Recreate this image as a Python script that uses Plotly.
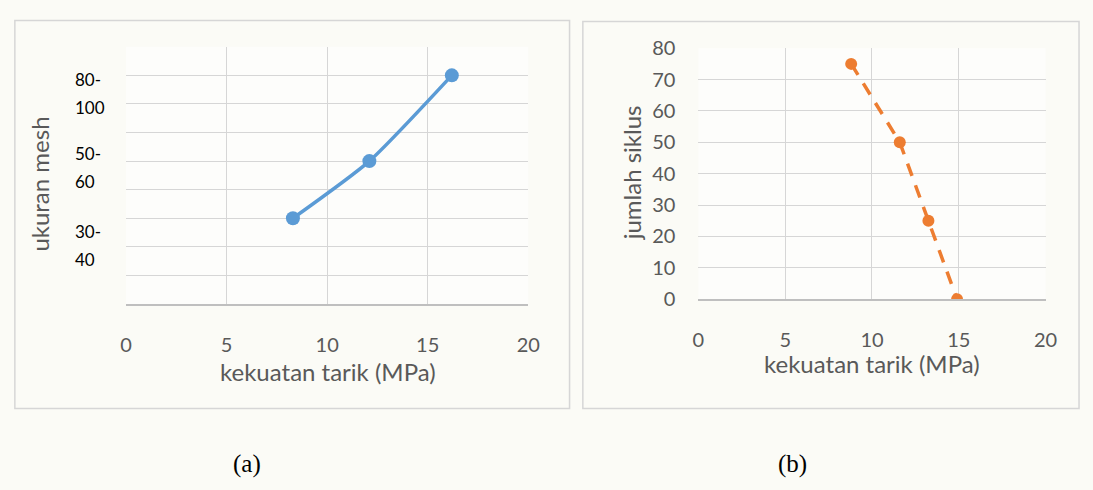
import plotly.graph_objects as go

# ---- data ----
mesh_strength = [8.3, 12.1, 16.2]          # kekuatan tarik (MPa), panel (a)
mesh_level = [30, 50, 80]                  # position of each mesh class on the y scale
mesh_labels = ["30-40", "50-60", "80-100"] # y tick labels panel (a)
mesh_label_pos = [20.5, 47.6, 73.7]

cycle_strength = [8.8, 11.6, 13.25, 14.9]  # kekuatan tarik (MPa), panel (b)
cycle_count = [75, 50, 25, 0]               # jumlah siklus

x_ticks = [0, 5, 10, 15, 20]
y_ticks_a = list(range(0, 100, 10))
y_ticks_b = list(range(0, 90, 10))

W, H = 1093, 490
def px(x): return x / W
def py(y): return 1 - y / H

fig = go.Figure()

fig.add_trace(go.Scatter(
    x=mesh_strength, y=mesh_level, mode="lines+markers",
    line=dict(color="#5B9BD5", width=3.5, shape="spline", smoothing=0.6),
    marker=dict(color="#5B9BD5", size=14),
    xaxis="x", yaxis="y", showlegend=False))

fig.add_trace(go.Scatter(
    x=cycle_strength, y=cycle_count, mode="lines+markers",
    line=dict(color="#ED7D31", width=3.5, dash="13px,10px"),
    marker=dict(color="#ED7D31", size=12),
    xaxis="x2", yaxis="y2", showlegend=False))

grid = "#d6d6d6"
tickfont = dict(family="Lato, Calibri, sans-serif", size=20, color="#595959")

fig.update_layout(
    width=W, height=H,
    margin=dict(l=0, r=0, t=0, b=0),
    paper_bgcolor="#fbfbf6",
    plot_bgcolor="rgba(255,255,255,0.6)",
    xaxis=dict(domain=[px(122), px(531)], range=[0, 20], tickvals=x_ticks,
               showgrid=True, gridcolor=grid, gridwidth=1.3, zeroline=False,
               showline=True, linecolor="#bfbfbf", linewidth=2,
               ticks="", tickfont=tickfont, ticklabelstandoff=22,
               anchor="y", fixedrange=True),
    yaxis=dict(domain=[py(306), py(35.5)], range=[0, 90], tickvals=y_ticks_a,
               showticklabels=False, showgrid=True, gridcolor=grid, gridwidth=1.3,
               zeroline=False, anchor="x", fixedrange=True),
    xaxis2=dict(domain=[px(704), px(1057)], range=[0, 20], tickvals=x_ticks,
                showgrid=True, gridcolor=grid, gridwidth=1.3, zeroline=False,
                showline=True, linecolor="#bfbfbf", linewidth=2,
                ticks="", tickfont=tickfont, ticklabelstandoff=22,
                anchor="y2", fixedrange=True),
    yaxis2=dict(domain=[py(301), py(37)], range=[0, 80], tickvals=y_ticks_b,
                showgrid=True, gridcolor=grid, gridwidth=1.3, zeroline=False,
                ticks="", tickfont=tickfont, ticklabelstandoff=22,
                anchor="x2", fixedrange=True),
)

shapes = [
    dict(type="rect", xref="paper", yref="paper", x0=px(9), x1=px(573), y0=py(416), y1=py(8),
         line=dict(color="#d6d6d6", width=1.5), fillcolor="rgba(255,255,255,0)", layer="below"),
    dict(type="rect", xref="paper", yref="paper", x0=px(586.5), x1=px(1091), y0=py(416), y1=py(9),
         line=dict(color="#d6d6d6", width=1.5), fillcolor="rgba(255,255,255,0)", layer="below"),
]
fig.update_layout(shapes=shapes)

labfont = dict(family="Lato, Calibri, sans-serif", size=17, color="#000000")
ann = []
for lab, pos in zip(mesh_labels, mesh_label_pos):
    top, bottom = lab.split("-")
    ann.append(dict(x=px(68), xref="paper", y=pos, yref="y", yshift=14,
                    text=top + "-", showarrow=False, xanchor="left", yanchor="middle",
                    font=labfont))
    ann.append(dict(x=px(68), xref="paper", y=pos, yref="y", yshift=-14,
                    text=bottom, showarrow=False, xanchor="left", yanchor="middle",
                    font=labfont))

titlefont = dict(family="Lato, Calibri, sans-serif", size=24, color="#595959")
capfont = dict(family="Liberation Serif, serif", size=25, color="#000000")
def note(x, y, text, font, angle=0):
    return dict(x=px(x), y=py(y), xref="paper", yref="paper", text=text,
                showarrow=False, xanchor="center", yanchor="middle",
                textangle=angle, font=font)

ann += [
    note(327, 377, "kekuatan tarik (MPa)", titlefont),
    note(34, 180, "ukuran mesh", titlefont, -90),
    note(880, 369, "kekuatan tarik (MPa)", titlefont),
    note(636, 168, "jumlah siklus", titlefont, -90),
    note(245, 474, "(a)", capfont),
    note(800, 474, "(b)", capfont),
]
fig.update_layout(annotations=ann)

fig.write_html("out.html", post_script="document.body.style.margin='0';",
               config={"displayModeBar": False})
